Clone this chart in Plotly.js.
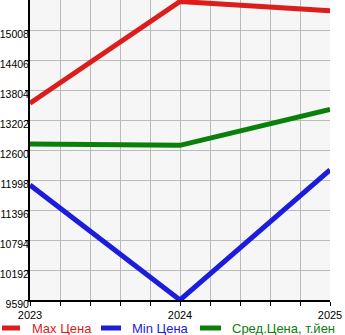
<!DOCTYPE html>
<html><head><meta charset="utf-8">
<script src="https://cdn.plot.ly/plotly-3.0.1.min.js"></script>
<style>body{margin:0;padding:0;background:#fff}#c{width:345px;height:335px}</style>
</head><body><div id="c"></div>
<script>
const years = [2023, 2024, 2025];
const maxPrice = [13540, 15580, 15395];
const minPrice = [11898, 9590, 12199];
const avgPrice = [12720, 12694, 13416];
const yTicks = [9590, 10192, 10794, 11396, 11998, 12600, 13202, 13804, 14406, 15008];
const seriesNames = ['Max Цена', 'Min Цена', 'Сред.Цена, т.йен'];
const seriesColors = ['#dd1c1c', '#1c1cdd', '#0a800a'];

const W = 345, H = 335, ML = 30, MR = 15, MT = 0, MB = 35;
const PW = W - ML - MR, PH = H - MT - MB;
const px2x = p => (p - ML) / PW;
const py2y = p => (H - MB - p) / PH;

const xTickVals = [];
const xTickText = [];
for (let i = 0; i <= 10; i++) {
  xTickVals.push(2023 + i * 0.2);
  xTickText.push(i % 5 === 0 ? String(2023 + i / 5) : '');
}

const data = [maxPrice, minPrice, avgPrice].map((ys, i) => ({
  x: years, y: ys, type: 'scatter', mode: 'lines',
  name: seriesNames[i],
  line: {color: seriesColors[i], width: 5}
}));

// manual legend
const legendSym = [[0, 22], [99, 123], [198, 223]];
const legendText = [30, 130, 230];
const legY = 328;
const shapes = legendSym.map((s, i) => ({
  type: 'line', xref: 'paper', yref: 'paper',
  x0: px2x(s[0] + 2), x1: px2x(s[1] - 2), y0: py2y(legY), y1: py2y(legY),
  line: {color: seriesColors[i], width: 5}
}));
const annotations = legendText.map((t, i) => ({
  xref: 'paper', yref: 'paper', x: px2x(t), y: py2y(legY), xanchor: 'left', yanchor: 'middle',
  text: seriesNames[i], showarrow: false, font: {size: 13, color: seriesColors[i]}
}));

const layout = {
  width: W, height: H,
  margin: {l: ML, r: MR, t: MT, b: MB},
  paper_bgcolor: '#ffffff', plot_bgcolor: '#f6f6f6',
  font: {family: 'Liberation Sans, Arial, sans-serif', size: 11, color: '#000'},
  showlegend: false,
  shapes: shapes, annotations: annotations,
  xaxis: {range: [2023, 2025], tickvals: xTickVals, ticktext: xTickText,
          showgrid: true, gridcolor: '#bbbbbb', gridwidth: 1,
          showline: true, linecolor: '#000', linewidth: 2,
          ticks: 'outside', ticklen: 4, tickcolor: '#000', zeroline: false,
          tickfont: {size: 11}},
  yaxis: {range: [9590, 15610], tickvals: yTicks, ticktext: yTicks.map(String),
          showgrid: true, gridcolor: '#bbbbbb', gridwidth: 1,
          showline: true, linecolor: '#000', linewidth: 2,
          ticks: 'outside', ticklen: 3, tickcolor: '#000', zeroline: false,
          ticklabelstandoff: -6, ticklabelshift: 4,
          tickfont: {size: 10.5}}
};
Plotly.newPlot('c', data, layout, {displayModeBar: false, staticPlot: true});
</script></body></html>
